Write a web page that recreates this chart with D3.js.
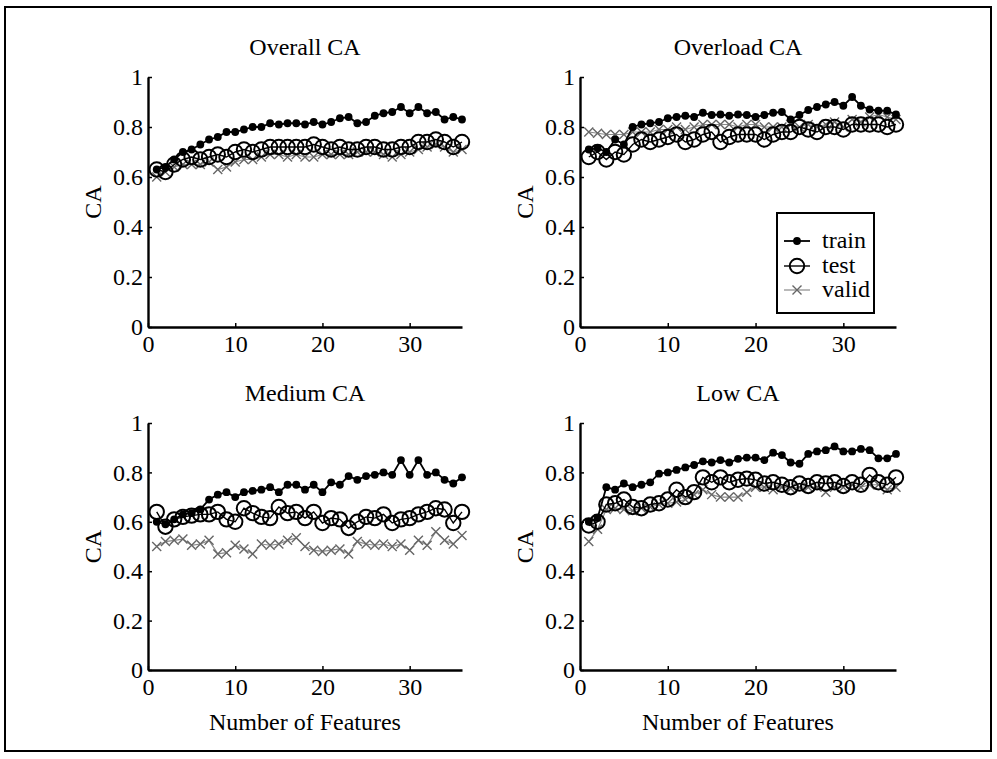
<!DOCTYPE html>
<html>
<head>
<meta charset="utf-8">
<script src="https://cdn.jsdelivr.net/npm/d3@7/dist/d3.min.js"></script>
<style>
  html, body { margin: 0; padding: 0; background: #fff; }
  svg { display: block; }
  text { font-family: "Liberation Serif", "Times New Roman", serif; fill: #000; }
</style>
</head>
<body>
<svg id="chart" width="997" height="759"></svg>
<script>
// Number of selected features (x values shared by all panels)
const features = [1,2,3,4,5,6,7,8,9,10,11,12,13,14,15,16,17,18,19,20,21,22,23,24,25,26,27,28,29,30,31,32,33,34,35,36];

const xTicks = [0, 10, 20, 30];
const yTicks = [0, 0.2, 0.4, 0.6, 0.8, 1];
const yTickLabels = ["0", "0.2", "0.4", "0.6", "0.8", "1"];

const panelTitles = ["Overall CA", "Overload CA", "Medium CA", "Low CA"];
const seriesNames = ["train", "test", "valid"];

// Overall CA
const overallTrain = [0.63,0.64,0.67,0.70,0.71,0.73,0.75,0.76,0.78,0.78,0.79,0.80,0.80,0.815,0.81,0.815,0.815,0.81,0.82,0.81,0.82,0.835,0.84,0.815,0.82,0.845,0.855,0.86,0.88,0.855,0.88,0.855,0.86,0.83,0.84,0.83];
const overallTest  = [0.63,0.62,0.65,0.67,0.68,0.67,0.68,0.69,0.68,0.70,0.71,0.70,0.71,0.72,0.72,0.72,0.72,0.72,0.73,0.72,0.71,0.72,0.71,0.71,0.72,0.72,0.71,0.71,0.72,0.72,0.74,0.74,0.75,0.74,0.72,0.74];
const overallValid = [0.60,0.62,0.64,0.65,0.65,0.65,0.66,0.63,0.64,0.66,0.67,0.67,0.68,0.69,0.69,0.68,0.69,0.68,0.68,0.69,0.69,0.69,0.69,0.70,0.70,0.70,0.69,0.68,0.69,0.70,0.71,0.72,0.73,0.72,0.70,0.71];

// Overload CA
const overloadTrain = [0.71,0.715,0.70,0.75,0.73,0.80,0.81,0.815,0.82,0.835,0.84,0.845,0.84,0.857,0.848,0.85,0.845,0.85,0.848,0.84,0.848,0.857,0.86,0.83,0.848,0.868,0.88,0.89,0.90,0.885,0.92,0.885,0.87,0.865,0.865,0.85];
const overloadTest  = [0.68,0.70,0.67,0.70,0.69,0.73,0.75,0.74,0.75,0.76,0.77,0.74,0.75,0.77,0.78,0.74,0.76,0.77,0.77,0.77,0.75,0.77,0.78,0.78,0.80,0.79,0.78,0.80,0.80,0.79,0.81,0.81,0.81,0.81,0.80,0.81];
const overloadValid = [0.78,0.775,0.77,0.77,0.77,0.78,0.78,0.78,0.79,0.79,0.80,0.79,0.80,0.81,0.81,0.81,0.81,0.80,0.81,0.81,0.80,0.80,0.80,0.81,0.80,0.81,0.80,0.81,0.82,0.80,0.83,0.82,0.84,0.85,0.84,0.83];

// Medium CA
const mediumTrain = [0.60,0.59,0.61,0.63,0.635,0.65,0.69,0.71,0.72,0.70,0.72,0.725,0.73,0.74,0.72,0.75,0.75,0.73,0.75,0.72,0.76,0.75,0.785,0.77,0.785,0.79,0.80,0.79,0.85,0.79,0.85,0.79,0.80,0.77,0.755,0.78];
const mediumTest  = [0.64,0.58,0.61,0.62,0.625,0.63,0.63,0.64,0.61,0.60,0.655,0.635,0.62,0.615,0.66,0.635,0.64,0.615,0.64,0.595,0.615,0.61,0.575,0.60,0.62,0.615,0.63,0.595,0.61,0.615,0.63,0.64,0.655,0.65,0.595,0.64];
const mediumValid = [0.50,0.52,0.525,0.53,0.505,0.51,0.525,0.47,0.475,0.505,0.49,0.47,0.51,0.505,0.51,0.525,0.535,0.50,0.485,0.48,0.485,0.49,0.47,0.52,0.51,0.505,0.51,0.50,0.51,0.485,0.525,0.505,0.56,0.525,0.51,0.545];

// Low CA
const lowTrain = [0.60,0.615,0.74,0.73,0.755,0.74,0.75,0.76,0.795,0.80,0.81,0.82,0.83,0.845,0.84,0.85,0.84,0.855,0.86,0.86,0.85,0.88,0.87,0.84,0.835,0.875,0.885,0.89,0.905,0.885,0.885,0.895,0.89,0.857,0.857,0.875];
const lowTest  = [0.585,0.60,0.67,0.675,0.69,0.66,0.655,0.67,0.675,0.69,0.73,0.70,0.72,0.78,0.76,0.78,0.76,0.77,0.775,0.77,0.755,0.76,0.75,0.74,0.755,0.745,0.76,0.755,0.76,0.745,0.76,0.75,0.79,0.76,0.75,0.78];
const lowValid = [0.52,0.57,0.65,0.655,0.65,0.645,0.655,0.66,0.67,0.675,0.68,0.69,0.71,0.73,0.71,0.70,0.70,0.70,0.72,0.74,0.74,0.73,0.74,0.735,0.74,0.74,0.74,0.72,0.74,0.74,0.75,0.74,0.75,0.75,0.73,0.74];

const panelSeries = [
  [overallTrain, overallTest, overallValid],
  [overloadTrain, overloadTest, overloadValid],
  [mediumTrain, mediumTest, mediumValid],
  [lowTrain, lowTest, lowValid]
];

const svg = d3.select("#chart");
const FONT = 24;

// Outer frame around the whole figure
svg.append("rect")
  .attr("x", 5).attr("y", 7).attr("width", 986).attr("height", 744)
  .attr("fill", "none").attr("stroke", "#000").attr("stroke-width", 2);

// Plot areas: [left, right, top, bottom] in pixels
const frames = [
  [148, 462, 77, 327],
  [580, 896, 77, 327],
  [148, 462, 423, 670],
  [580, 896, 423, 670]
];

const styles = {
  train: { line: "#000", lw: 1.8 },
  test:  { line: "#000", lw: 1.4 },
  valid: { line: "#8a8a8a", lw: 1.2 }
};

function drawMarker(g, kind, cx, cy) {
  if (kind === "train") {
    g.append("circle").attr("cx", cx).attr("cy", cy).attr("r", 3.9).attr("fill", "#000");
  } else if (kind === "test") {
    g.append("circle").attr("cx", cx).attr("cy", cy).attr("r", 7.2)
      .attr("fill", "none").attr("stroke", "#000").attr("stroke-width", 2);
  } else {
    const s = 4.5;
    g.append("path")
      .attr("d", `M${cx - s},${cy - s}L${cx + s},${cy + s}M${cx - s},${cy + s}L${cx + s},${cy - s}`)
      .attr("stroke", "#666").attr("stroke-width", 1.4).attr("fill", "none");
  }
}

panelSeries.forEach((series, i) => {
  const [x0, x1, yTop, yBot] = frames[i];
  const x = d3.scaleLinear().domain([0, 36]).range([x0, x1]);
  const y = d3.scaleLinear().domain([0, 1]).range([yBot, yTop]);
  const g = svg.append("g");

  // Series: valid underneath, then test, then train on top
  [2, 1, 0].forEach(si => {
    const name = seriesNames[si];
    const vals = series[si];
    const pts = features.map((f, k) => [x(f), y(vals[k])]);
    g.append("path")
      .attr("d", d3.line()(pts))
      .attr("fill", "none")
      .attr("stroke", styles[name].line)
      .attr("stroke-width", styles[name].lw);
    const mg = g.append("g");
    pts.forEach(p => drawMarker(mg, name, p[0], p[1]));
  });

  // Axes with inward ticks
  const yAxis = d3.axisLeft(y).tickValues(yTicks)
    .tickFormat((d, k) => yTickLabels[k])
    .tickSizeInner(-4).tickSizeOuter(0).tickPadding(5);
  const xAxis = d3.axisBottom(x).tickValues(xTicks)
    .tickFormat(d3.format("d"))
    .tickSizeInner(-4).tickSizeOuter(0).tickPadding(8);

  const ya = g.append("g").attr("transform", `translate(${x0},0)`).call(yAxis);
  const xa = g.append("g").attr("transform", `translate(0,${yBot})`).call(xAxis);
  [ya, xa].forEach(a => {
    a.select(".domain").attr("stroke", "#000").attr("stroke-width", 2.4);
    a.selectAll(".tick line").attr("stroke", "#000").attr("stroke-width", 1.5);
    a.selectAll(".tick text")
      .attr("font-family", "Liberation Serif, serif")
      .attr("font-size", FONT).attr("fill", "#000");
  });

  // Title
  g.append("text")
    .attr("x", (x0 + x1) / 2).attr("y", yTop - 22)
    .attr("text-anchor", "middle").attr("font-size", FONT)
    .text(panelTitles[i]);

  // Y label
  g.append("text")
    .attr("transform", `translate(${x0 - 47},${(yTop + yBot) / 2}) rotate(-90)`)
    .attr("text-anchor", "middle").attr("font-size", FONT)
    .text("CA");

  // X label on the bottom row
  if (i >= 2) {
    g.append("text")
      .attr("x", (x0 + x1) / 2).attr("y", yBot + 60)
      .attr("text-anchor", "middle").attr("font-size", FONT)
      .text("Number of Features");
  }
});

// Legend in the Overload panel
const lg = svg.append("g");
lg.append("rect")
  .attr("x", 777).attr("y", 213).attr("width", 97).attr("height", 100)
  .attr("fill", "#fff").attr("stroke", "#000").attr("stroke-width", 2);
const legendY = [241, 266, 290];
seriesNames.forEach((name, k) => {
  const ly = legendY[k];
  lg.append("line")
    .attr("x1", 784).attr("x2", 810).attr("y1", ly).attr("y2", ly)
    .attr("stroke", styles[name].line).attr("stroke-width", styles[name].lw);
  drawMarker(lg, name, 797, ly);
  lg.append("text")
    .attr("x", 822).attr("y", ly + 7)
    .attr("font-size", FONT)
    .text(name);
});
</script>
</body>
</html>
